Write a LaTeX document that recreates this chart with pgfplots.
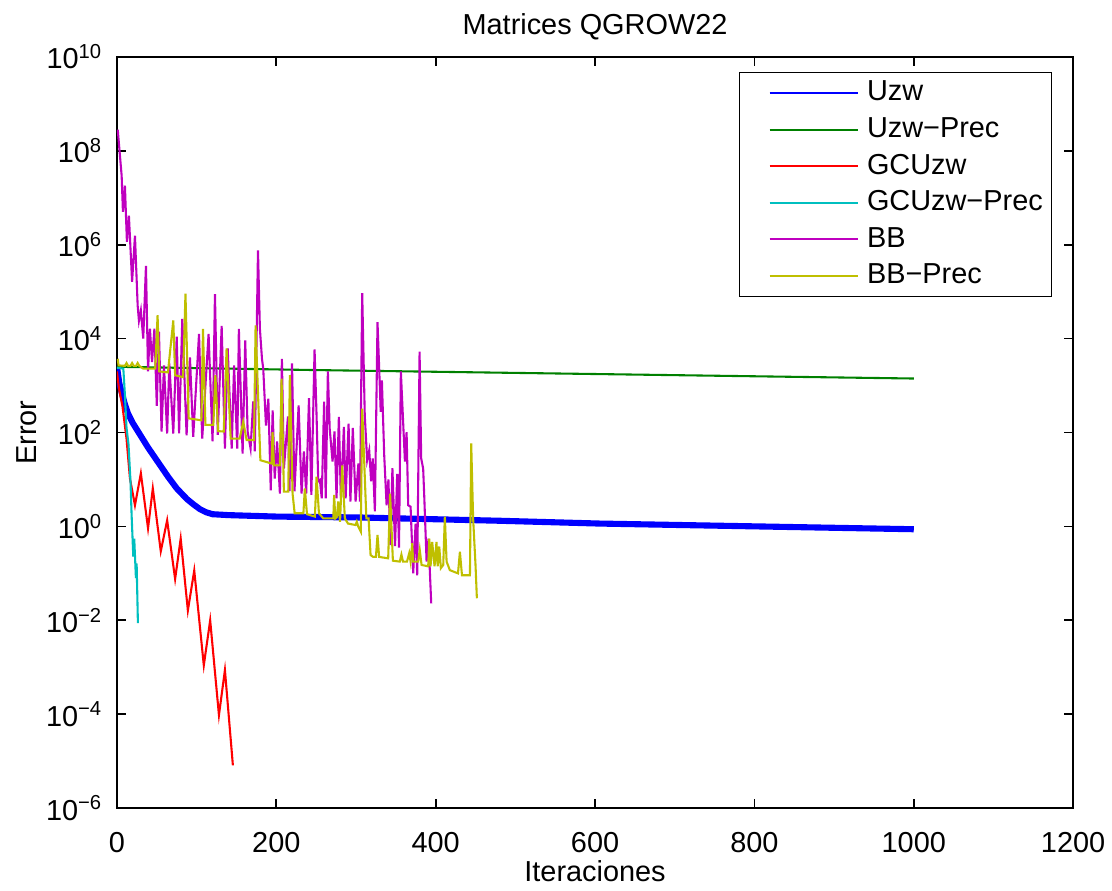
\documentclass[border=0pt]{standalone}
\usepackage{fontspec}
\setmainfont{Liberation Sans}
\usepackage{pgfplots}
\pgfplotsset{compat=1.18}
\usetikzlibrary{calc}

\definecolor{mblue}{rgb}{0,0,1}
\definecolor{mgreen}{rgb}{0,0.5,0}
\definecolor{mred}{rgb}{1,0,0}
\definecolor{mcyan}{rgb}{0,0.75,0.75}
\definecolor{mmag}{rgb}{0.75,0,0.75}
\definecolor{myel}{rgb}{0.75,0.75,0}

\begin{document}
\fontsize{10.4}{12.5}\selectfont
\begin{tikzpicture}
\begin{axis}[
  scale only axis,
  width=344.2pt, height=270.4pt,
  xmin=0, xmax=1200, ymin=1e-6, ymax=1e10,
  ymode=log,
  xtick={0,200,...,1200},
  ytick={1e-6,1e-4,1e-2,1,1e2,1e4,1e6,1e8,1e10},
  yticklabels={10\textsuperscript{−6},10\textsuperscript{−4},10\textsuperscript{−2},10\textsuperscript{0},10\textsuperscript{2},10\textsuperscript{4},10\textsuperscript{6},10\textsuperscript{8},10\textsuperscript{10}},
  yminorticks=false, xminorticks=false,
  tick align=inside, major tick length=3.3pt,
  axis line style={line width=0.6pt},
  every tick/.style={black, line width=0.6pt},
  /pgf/number format/assume math mode=true,
  /pgf/number format/1000 sep={},
  ticklabel style={font=\fontsize{10.4}{12.5}\selectfont},
  xticklabel style={yshift=-5pt},
  yticklabel style={xshift=-1.5pt},
  title={Matrices QGROW22},
  every axis title shift=0pt,
  title style={at={(axis description cs:0.5,1.040)}, anchor=center, font=\fontsize{10.4}{12.5}\selectfont},
  xlabel={Iteraciones},
  xlabel style={at={(axis description cs:0.5,-0.0840)}, anchor=center, font=\fontsize{10.4}{12.5}\selectfont},
  ylabel={Error},
  ylabel style={at={(axis description cs:-0.094,0.5)}, anchor=center, font=\fontsize{10.4}{12.5}\selectfont},
  legend style={at={(rel axis cs:0.978,0.980)}, anchor=north east, draw=black, line width=0.5pt,
    font=\fontsize{10.4}{12.5}\selectfont, cells={anchor=west}, row sep=0.4pt,
    inner xsep=1.1pt, inner ysep=1pt},
  legend image code/.code={\draw[#1, line width=0.7pt] (9.3pt,0pt) -- (41.3pt,0pt); \path (0pt,0pt) (42pt,0pt);},
  every axis plot/.append style={line width=0.75pt},
]
% Uzw
\addplot[mblue, line width=2.2pt, forget plot] coordinates {
(0,2510)(3,1120)(6,708)(10,398)(14,251)(20,158)(39,47.9)(64,11.5)(75,6.46)(88,3.80)(96,2.95)(104,2.34)(112,2.00)(120,1.82)(140,1.74)(200,1.62)(305,1.55)(480,1.32)(606,1.15)(1000,0.871)
};
\addlegendimage{mblue}
\addlegendentry{Uzw}
% Uzw-Prec
\addplot[mgreen] coordinates {
(0,2512)(250,2138)(500,1862)(750,1622)(1000,1413)
};
\addlegendentry{Uzw−Prec}
% GCUzw
\addplot[mred] coordinates {
(0,1995)(2.5,871)(7,355)(12,74.1)(16.3,10.5)(22.6,2.82)(30,13.5)(39,0.912)(45,6.46)(55,0.295)(63,1.35)(73,0.0759)(80,0.550)(89,0.0162)(97,0.115)(109,1.10e-3)(117,1.0e-2)(128,9.55e-5)(135.5,8.71e-4)(145.5,8.13e-6)
};
\addlegendentry{GCUzw}
% GCUzw-Prec
\addplot[mcyan] coordinates {
(0,2399)(8,2291)(10,631)(12,126)(14.5,56.2)(17,9.12)(18.4,1.74)(20.5,0.229)(21.7,0.550)(23.8,0.0794)(24.7,0.162)(26.3,8.71e-3)
};
\addlegendentry{GCUzw−Prec}
% BB
\addplot[mmag] coordinates {
(1,2.82e8)(5.9,2.95e7)(7.5,5.01e6)(10,1.82e7)(12.5,1.15e6)(15,4.17e6)(19,1.62e5)(22.6,1.55e6)(26,5.01e4)(27.6,2.40e4)(30,3.98e4)(33,1.0e4)(36.4,3.55e5)(39,2.0e3)(41.4,1.62e4)(44,3.16e3)(47,1.62e4)(50,372)(52.7,1.41e4)(56,105)(59,2.69e3)(63,95.5)(65.7,2.95e3)(70.7,95.5)(75,1.10e4)(78,95.5)(82,2.63e4)(87.4,87.1)(91.6,3.98e3)(95.7,81.3)(103,1.26e4)(107,74.1)(115,1.26e4)(120,64.6)(123,8.91e4)(126.5,89.1)(131.4,1.86e4)(135.5,45.7)(139,6.17e3)(144,45.7)(147,2.69e3)(151,45.7)(153,1.62e4)(157.7,35.5)(161,9.12e3)(164,105)(167.7,45.7)(171,457)(173,39.8)(177,7.59e5)(179.4,1.62e4)(182,3.72e3)(183.6,2.29e3)(187,141)(190,525)(193,5.89)(195.4,295)(198,10.5)(201,64.6)(204.5,5.01)(207,3.72e3)(209.5,17.0)(214.6,219)(216.5,5.62)(219.7,2.95e3)(222.8,5.62)(228,380)(231.7,5.01)(234.6,39.8)(237.5,5.01)(241,537)(244,4.68)(248,5.89e3)(250.5,234)(252.6,9.12)(254.7,9.77)(257,3.98)(260,457)(262,3.98)(264.7,2.0e3)(267,120)(270.6,24.0)(273,105)(275.6,3.98)(278.5,214)(281,3.98)(284.8,132)(287,3.98)(290.7,155)(293,3.39)(296,126)(299.5,3.39)(303,21.9)(305,3.39)(307.8,9.33e4)(311,234)(314,25.7)(316.6,41.7)(319,9.12)(321,28.2)(323.7,2.09)(327,2.24e4)(330,871)(331,275)(332.5,1.29e3)(335.4,33.1)(338.4,2.82)(340.7,10)(343.2,0.398)(345.7,17.4)(349,0.380)(351.7,13.2)(354,0.355)(356.3,2.0e3)(361.4,24.0)(363.5,102)(365.5,2.82)(368.5,2.63)(371.8,0.1)(374.8,1.15)(376.8,0.0912)(379.8,5.25e3)(381.8,28.2)(384.3,17.0)(385.6,4.68)(388.6,0.178)(391,0.550)(392.7,0.110)(394.4,0.0229)
};
\addlegendentry{BB}
% BB-Prec
\addplot[myel] coordinates {
(1,3.72e3)(2,2.69e3)(10,2.63e3)(12,3.02e3)(14,2.63e3)(17,2.63e3)(19,3.02e3)(21,2.63e3)(24,2.63e3)(26,3.02e3)(28,2.63e3)(33,2.29e3)(48,2.29e3)(51,3.16e4)(53,2.0e3)(64,1.91e3)(70.7,2.45e4)(73,1.66e3)(83,1.51e3)(86,9.12e4)(90,200)(106,182)(108,1.62e4)(111,145)(121,145)(123.5,1.66e3)(127,107)(134,105)(137.6,6.17e3)(142.7,74.1)(154,74.1)(158.5,170)(162.7,69.2)(172,69.2)(174,1.91e4)(180,25.7)(194,21.9)(195.3,102)(197,20.0)(204.5,20.0)(206.6,1.41e3)(209.5,5.50)(215,5.50)(217,1.66e3)(220.4,5.01)(223,1.91)(234,1.91)(235.8,6.46)(238.5,1.82)(248.4,1.62)(250.5,11.5)(253.5,1.91)(259,1.48)(271.5,1.48)(272.6,4.68)(274,1.48)(276,1.58)(277.7,3.39)(280,1.26)(282.7,20.0)(286,1.48)(290,1.15)(299.5,1.07)(301,1.26)(302.8,1.0)(306,0.776)(307.8,324)(313,1.48)(315.8,1.48)(318.3,0.245)(321.6,0.224)(325,0.224)(327,0.661)(329,0.224)(340.4,0.209)(342.8,5.01)(346.3,0.186)(355,0.178)(357,0.251)(359,0.178)(364,0.178)(366.8,0.269)(368.5,0.178)(370.5,0.437)(371.8,0.178)(378,0.178)(380,0.316)(382.3,0.151)(390.6,0.141)(392,0.550)(393.6,0.141)(395.6,0.468)(398.6,0.141)(401,0.468)(402.5,0.141)(404.5,0.372)(406.5,0.129)(409.5,0.151)(411.5,1.62)(413.7,0.178)(417.8,0.117)(428,0.1)(430.4,0.288)(433,0.0912)(443,0.0912)(444.6,58.9)(447,1.48)(450,0.151)(451.7,0.0295)
};
\addlegendentry{BB−Prec}
\end{axis}
\pgfresetboundingbox
\path[use as bounding box] ($(current axis.south west)+(-42.1pt,-29.5pt)$) rectangle ($(current axis.north east)+(14.0pt,20.5pt)$);
\end{tikzpicture}
\end{document}
